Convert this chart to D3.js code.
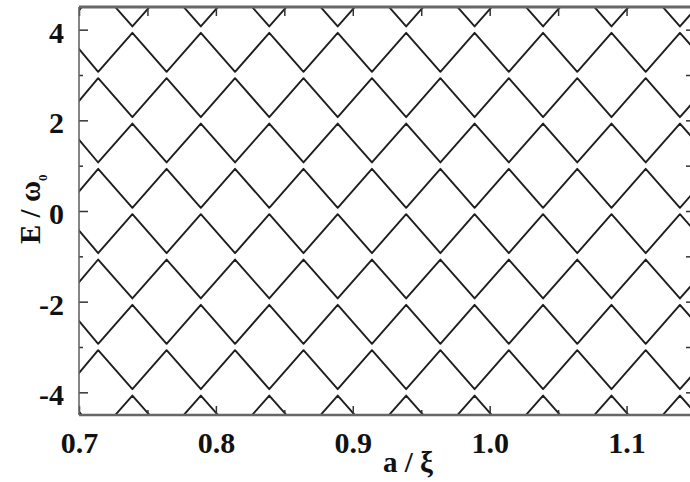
<!DOCTYPE html>
<html>
<head>
<meta charset="utf-8">
<title>E / ω0 versus a / ξ</title>
<style>
    html, body {
        margin: 0;
        padding: 0;
        background: #fff;
    }
    svg { display: block; }
    .axis path.domain { display: none; }
    .axis .tick line {
        stroke: #333;
        stroke-width: 1.5;
    }
    .axis .tick text {
        font-family: "Liberation Serif", "DejaVu Serif", serif;
        font-size: 30px;
        font-weight: bold;
        fill: #111;
    }
    .frame {
        fill: none;
        stroke: #666;
    }
    .level {
        fill: none;
        stroke: #1e1e1e;
        stroke-width: 1.9;
        stroke-linejoin: round;
    }
    .title {
        font-family: "Liberation Serif", "DejaVu Serif", serif;
        font-size: 29px;
        font-weight: bold;
        fill: #111;
    }
</style>
<script src="https://d3js.org/d3.v7.min.js"></script>
</head>
<body>
<svg id="chart" width="690" height="482"></svg>
<script>
// lower edge of each energy band [n, n+1] that holds one level
const bandBottoms = [-5, -4, -3, -2, -1, 0, 1, 2, 3, 4];
// a/xi where the levels meet at even E (0, ±2, ±4)
const evenCrossings = [0.690, 0.739, 0.789, 0.839, 0.889, 0.939, 0.989, 1.039, 1.089, 1.139, 1.189];
// a/xi where the levels meet at odd E (±1, ±3)
const oddCrossings = [0.664, 0.714, 0.764, 0.814, 0.864, 0.914, 0.964, 1.014, 1.064, 1.114, 1.164];
// half of the anticrossing gap, in units of omega0
const halfGap = 0.07;

const xMajor = [0.7, 0.8, 0.9, 1.0, 1.1];
const xMinor = [0.75, 0.85, 0.95, 1.05, 1.15];
const yMajor = [-4, -2, 0, 2, 4];
const yMinor = [-3, -1, 1, 3];

const plotLeft = 79, plotRight = 695, plotTop = 7, plotBottom = 415;

const svg = d3.select("#chart");

const x = d3.scaleLinear().domain([0.7, 1.15]).range([plotLeft, plotRight]);
const y = d3.scaleLinear().domain([-4.5, 4.5]).range([plotBottom, plotTop]);

svg.append("clipPath")
    .attr("id", "plot-clip")
    .append("rect")
    .attr("x", plotLeft)
    .attr("y", plotTop)
    .attr("width", plotRight - plotLeft)
    .attr("height", plotBottom - plotTop);

// build the vertex list of one level out of the crossing positions
function levelPoints(n) {
    const marks = evenCrossings.map(a => ({ a: a, parity: 0 }))
        .concat(oddCrossings.map(a => ({ a: a, parity: 1 })))
        .sort((p, q) => p.a - q.a);
    const lowParity = ((n % 2) + 2) % 2;
    return marks.map(m => ({
        a: m.a,
        E: m.parity === lowParity ? n + halfGap : n + 1 - halfGap
    }));
}

const line = d3.line()
    .x(d => x(d.a))
    .y(d => y(d.E));

svg.append("g")
    .attr("clip-path", "url(#plot-clip)")
    .selectAll("path")
    .data(bandBottoms)
    .enter().append("path")
    .attr("class", "level")
    .attr("d", n => line(levelPoints(n)));

// axes, ticks pointing inward
svg.append("g")
    .attr("class", "axis")
    .attr("transform", "translate(0," + plotBottom + ")")
    .call(d3.axisBottom(x).tickValues(xMajor).tickFormat(d3.format(".1f"))
        .tickSizeInner(-9).tickSizeOuter(0).tickPadding(17));
svg.append("g")
    .attr("class", "axis")
    .attr("transform", "translate(0," + plotBottom + ")")
    .call(d3.axisBottom(x).tickValues(xMinor).tickFormat("")
        .tickSizeInner(-5).tickSizeOuter(0));
svg.append("g")
    .attr("class", "axis")
    .attr("transform", "translate(0," + plotTop + ")")
    .call(d3.axisTop(x).tickValues(xMajor.concat(xMinor)).tickFormat("")
        .tickSizeInner(-9).tickSizeOuter(0));

svg.append("g")
    .attr("class", "axis")
    .attr("transform", "translate(" + plotLeft + ",0)")
    .call(d3.axisLeft(y).tickValues(yMajor).tickFormat(d => String(d))
        .tickSizeInner(-9).tickSizeOuter(0).tickPadding(15))
    .selectAll("text")
    .attr("dy", "0.42em");
svg.append("g")
    .attr("class", "axis")
    .attr("transform", "translate(" + plotLeft + ",0)")
    .call(d3.axisLeft(y).tickValues(yMinor).tickFormat("")
        .tickSizeInner(-4).tickSizeOuter(0));
svg.append("g")
    .attr("class", "axis")
    .attr("transform", "translate(" + plotRight + ",0)")
    .call(d3.axisRight(y).tickValues(yMajor.concat(yMinor)).tickFormat("")
        .tickSizeInner(-9).tickSizeOuter(0));

// frame lines
svg.append("line").attr("class", "frame")
    .attr("x1", plotLeft).attr("x2", plotRight).attr("y1", plotTop).attr("y2", plotTop)
    .attr("stroke", "#7a7a7a").attr("stroke-width", 3);
svg.append("line").attr("class", "frame")
    .attr("x1", plotLeft).attr("x2", plotRight).attr("y1", plotBottom).attr("y2", plotBottom)
    .attr("stroke-width", 2.4);
svg.append("line").attr("class", "frame")
    .attr("x1", plotLeft).attr("x2", plotLeft).attr("y1", plotTop).attr("y2", plotBottom)
    .attr("stroke-width", 1.6);

// axis titles
svg.append("text")
    .attr("class", "title")
    .attr("x", 408)
    .attr("y", 472)
    .attr("text-anchor", "middle")
    .text("a / ξ");

const yTitle = svg.append("text")
    .attr("class", "title")
    .attr("transform", "translate(40,244) rotate(-90)");
yTitle.append("tspan").text("E / ω");
yTitle.append("tspan")
    .attr("font-size", "13px")
    .attr("dy", "0.5em")
    .text("0");
</script>
</body>
</html>
